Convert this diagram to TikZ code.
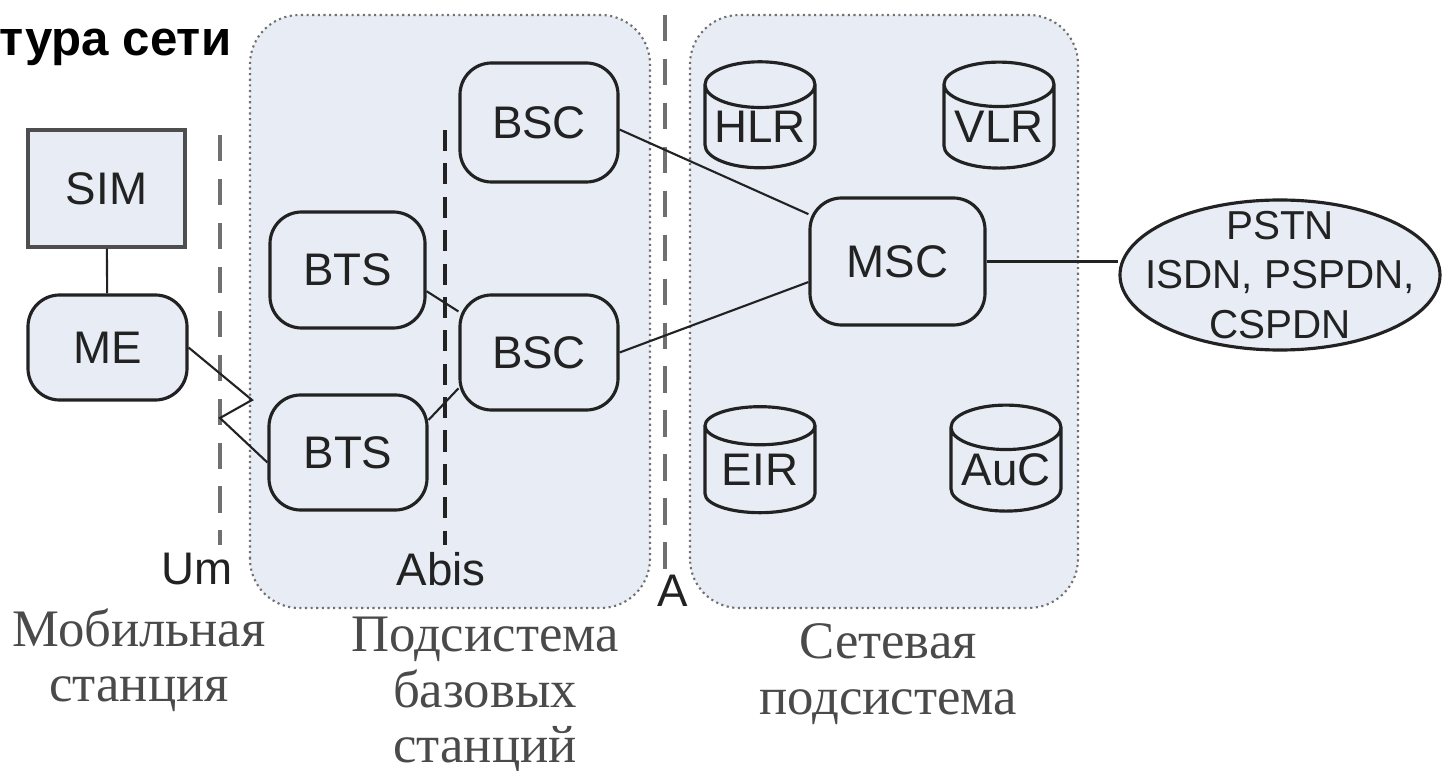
\documentclass[tikz,border=0pt]{standalone}
\usepackage{fontspec}
\setmainfont{Liberation Serif}
\setsansfont{Liberation Sans}
\usetikzlibrary{shapes.geometric}
\definecolor{panel}{HTML}{E7ECF5}
\definecolor{ink}{HTML}{222222}
\definecolor{ifgray}{HTML}{707070}
\definecolor{capgray}{HTML}{4A4A4A}

\begin{document}
\begin{tikzpicture}[
    unit/.style={rectangle, rounded corners=9pt, draw=ink, line width=0.9pt, fill=panel,
        inner sep=0pt, font=\sffamily\fontsize{13}{15}\selectfont, text=ink},
    card/.style={rectangle, draw=ink!80, line width=0.9pt, fill=panel, inner sep=0pt,
        font=\sffamily\fontsize{13}{15}\selectfont, text=ink},
    store/.style={cylinder, shape border rotate=90, aspect=0.5, draw=ink, line width=0.9pt,
        fill=panel, inner sep=0pt, minimum width=1.1cm, minimum height=1.06cm,
        font=\sffamily\fontsize{13}{15}\selectfont, text=ink},
    net/.style={ellipse, draw=ink, line width=0.9pt, fill=panel, inner xsep=-0.3cm,
        inner ysep=-0.2cm, minimum width=3.2cm, minimum height=1.5cm, align=center,
        font=\sffamily\fontsize{11.5}{14}\selectfont, text=ink},
    subsys/.style={draw=ifgray, densely dotted, line width=0.6pt, fill=panel, rounded corners=14pt},
    cut/.style={draw=ifgray, line width=1.4pt, dash pattern=on 7.5pt off 5pt},
    cutdark/.style={draw=ink, line width=0.9pt, dash pattern=on 6pt off 3.5pt},
    tag/.style={font=\sffamily\fontsize{13}{15}\selectfont, text=ink, inner sep=0pt},
    caption/.style={align=center, font=\fontsize{15}{15.8}\selectfont, text=capgray, inner sep=0pt},
    link/.style={draw=ink, line width=0.6pt}
]
    \useasboundingbox (0,0) rectangle (14.45,7.7);

    % subsystems
    \draw[subsys] (2.5,1.62) rectangle (6.5,7.55);
    \draw[subsys] (6.9,1.62) rectangle (10.78,7.55);

    % interfaces
    \draw[cut] (2.2,6.35) -- (2.2,2.25);
    \draw[cutdark] (4.45,6.4) -- (4.45,2.25);
    \draw[cut] (6.65,7.55) -- (6.65,2.0);
    \node[tag, anchor=east] (um) at (2.33,2.01) {Um};
    \node[tag] (abis) at (4.41,2.01) {Abis};
    \node[tag] (a) at (6.73,1.79) {A};

    \node[anchor=base east, inner sep=0pt, font=\sffamily\bfseries\fontsize{14}{16}\selectfont] (title) at (2.32,7.15) {тура сети};

    \node[card, minimum width=1.57cm, minimum height=1.17cm] (sim) at (1.065,5.815) {SIM};
    \node[unit, minimum width=1.59cm, minimum height=1.05cm] (me) at (1.075,4.225) {ME};
    \node[unit, minimum width=1.55cm, minimum height=1.16cm] (bts1) at (3.475,5.0) {BTS};
    \node[unit, minimum width=1.58cm, minimum height=1.15cm] (bts2) at (3.48,3.175) {BTS};
    \node[unit, minimum width=1.58cm, minimum height=1.19cm] (bsc1) at (5.39,6.475) {BSC};
    \node[unit, minimum width=1.58cm, minimum height=1.15cm] (bsc2) at (5.39,4.175) {BSC};
    \node[unit, minimum width=1.75cm, minimum height=1.27cm] (msc) at (8.975,5.085) {MSC};
    \node[store] (hlr) at (7.6,6.43) {HLR};
    \node[store] (vlr) at (9.99,6.43) {VLR};
    \node[store] (eir) at (7.6,3.0) {EIR};
    \node[store] (auc) at (10.06,3.0) {AuC};
    \node[net] (pstn) at (12.8,4.95) {PSTN\\ISDN, PSPDN,\\CSPDN};

    \coordinate (zig1) at (2.52,3.7);
    \coordinate (zig2) at (2.2,3.52);

    \draw[link] (sim) -- (me);
    \draw[link] (me.east) -- (zig1) -- (zig2) -- ([yshift=-0.1cm]bts2.west);
    \draw[link] (bts1.-15) -- (bsc2.153);
    \draw[link] (bts2.22) -- (bsc2.204);
    \draw[link] (bsc1.-5) -- (msc.152);
    \draw[link] (bsc2.east) -- (msc.193);
    \draw[link] (msc.east) -- (msc.east -| pstn.west);

    % captions
    \node[caption] (ms) at (1.39,1.1) {Мобильная\\станция};
    \node[caption] (bss) at (4.85,0.75) {Подсистема\\базовых\\станций};
    \node[caption] (nss) at (8.88,0.96) {Сетевая\\подсистема};
\end{tikzpicture}
\end{document}
